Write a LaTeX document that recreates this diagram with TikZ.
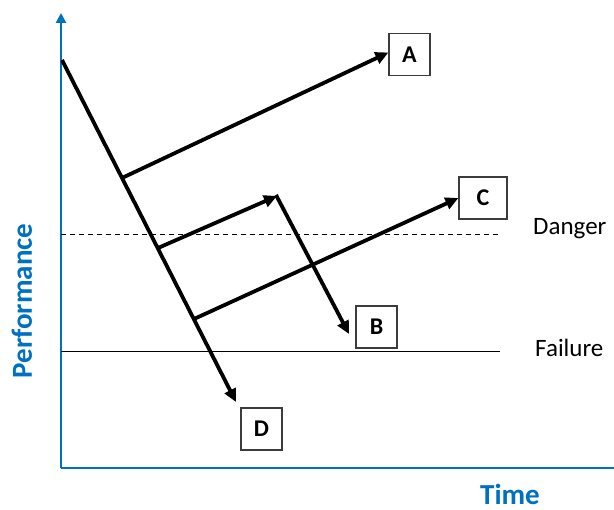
\documentclass[tikz,border=0pt]{standalone}
\usepackage{fontspec}
\setmainfont{Carlito}
\usetikzlibrary{arrows.meta}
\definecolor{axisblue}{RGB}{0,112,192}
\definecolor{boxgray}{RGB}{60,60,60}
\tikzset{
  box/.style={draw=boxgray, line width=1.2pt, fill=white, minimum width=41pt, minimum height=42pt, inner sep=0pt, font=\fontsize{24}{24}\selectfont\bfseries},
  arr/.style={line width=3.8pt, -{Triangle[length=13pt,width=12pt]}},
  axis/.style={axisblue, line width=2.6pt},
  axlabel/.style={text=axisblue, inner sep=0pt, font=\fontsize{29}{29}\selectfont\bfseries},
  lvl/.style={inner sep=0pt, font=\fontsize{25}{25}\selectfont},
}
\begin{document}
\begin{tikzpicture}[x=1pt,y=-1pt]
\useasboundingbox (0,0) rectangle (614,510);
% axes
\coordinate (O) at (61,468);
\coordinate (ytop) at (61,13);
\coordinate (xend) at (614,468);
\draw[axis, -{Triangle[length=10pt,width=10pt]}] (O) -- (ytop);
\draw[axis] (O) -- (xend);
\node[axlabel, rotate=90] (perf) at (22,301) {Performance};
\node[axlabel] (time) at (510,494) {Time};
% levels
\coordinate (dl) at (61,234);
\coordinate (dr) at (500,234);
\coordinate (fl) at (61,351);
\coordinate (fr) at (500,351);
\draw[line width=0.9pt, dash pattern=on 5pt off 4pt] (dl) -- (dr);
\draw[line width=0.9pt] (fl) -- (fr);
\node[lvl, anchor=west] (danger) at (533,229) {Danger};
\node[lvl, anchor=west] (failure) at (535,348) {Failure};
% boxes
\node[box] (A) at (409.5,54.5) {A};
\node[box, minimum width=48pt] (C) at (483,198) {C};
\node[box] (B) at (376.5,327) {B};
\node[box] (D) at (261.5,429) {D};
% main line
\coordinate (top) at (62,60);
\coordinate (dtip) at (236,402);
\coordinate (pa) at (122,178);
\coordinate (pb) at (158,248);
\coordinate (pc) at (194,319);
\coordinate (peak) at (277,196);
\coordinate (btip) at (349,334);
\draw[arr] (top) -- (dtip);
\draw[arr] (pa) -- ([yshift=2pt]A.west);
\draw[arr] (pb) -- (peak);
\draw[arr] ([xshift=-1pt,yshift=1pt]peak) -- (btip);
\draw[arr] (pc) -- (C.west);
\end{tikzpicture}
\end{document}
